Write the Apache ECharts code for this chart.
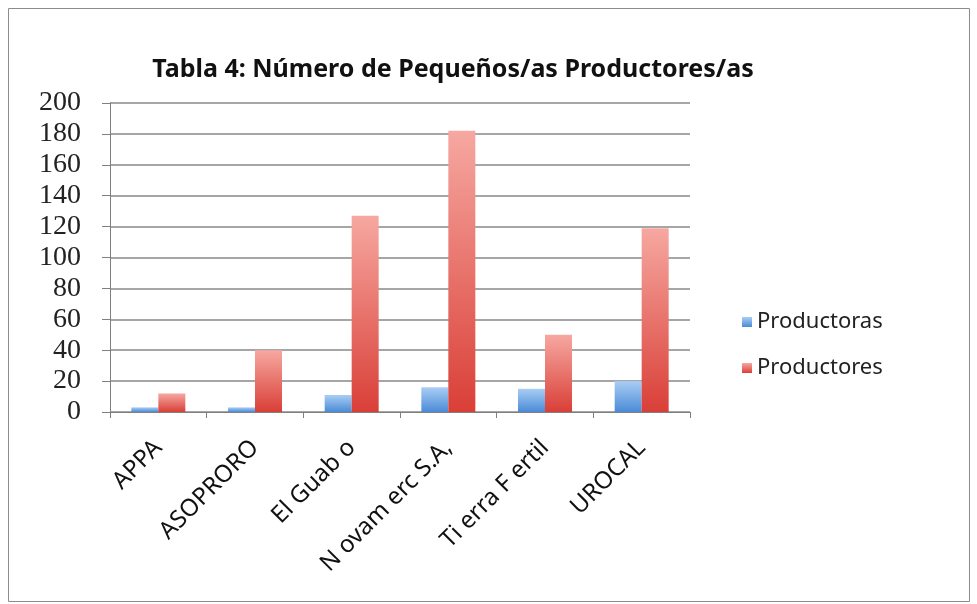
<!DOCTYPE html>
<html><head><meta charset="utf-8">
<script src="https://cdn.jsdelivr.net/npm/echarts@6/dist/echarts.min.js"></script>
<style>html,body{margin:0;padding:0;background:#fff}#c{width:977px;height:604px}</style>
</head><body><div id="c"></div>
<script>
var titleText = 'Tabla 4: Número de Pequeños/as Productores/as';
var categories = ['APPA', 'ASOPRORO', 'El Guab o', 'N ovam erc S.A,', 'Ti erra F ertil', 'UROCAL'];
var productoras = [3, 3, 11, 16, 15, 20];
var productores = [12, 40, 127, 182, 50, 119];
var seriesNames = ['Productoras', 'Productores'];

var chart = echarts.init(document.getElementById('c'));
function grad(top, bottom) {
  return new echarts.graphic.LinearGradient(0, 0, 0, 1, [{offset: 0, color: top}, {offset: 1, color: bottom}]);
}
chart.setOption({
  backgroundColor: '#ffffff',
  animation: false,
  graphic: [{type: 'rect', shape: {x: 8.5, y: 8.5, width: 961, height: 593}, style: {fill: 'none', stroke: '#8c8c8c', lineWidth: 1}}],
  title: {
    text: titleText, left: 448, top: 52, textAlign: 'center',
    textStyle: {fontFamily: 'Noto Sans', fontWeight: 'bold', fontSize: 25, color: '#111'}
  },
  legend: {
    orient: 'vertical', left: 737, top: 306, itemGap: 24, itemWidth: 10, itemHeight: 10,
    icon: 'rect', data: seriesNames,
    textStyle: {fontFamily: 'Noto Sans', fontSize: 22, color: '#222'}
  },
  grid: {left: 110, right: 287, top: 103, bottom: 192, containLabel: false},
  xAxis: {
    type: 'category', data: categories,
    axisLine: {lineStyle: {color: '#808080', width: 1}},
    axisTick: {show: true, length: 6, lineStyle: {color: '#808080'}},
    axisLabel: {rotate: 45, margin: 32, fontFamily: 'Noto Sans', fontSize: 24, color: '#111', interval: 0}
  },
  yAxis: {
    type: 'value', min: 0, max: 200, interval: 20,
    axisLine: {show: true, lineStyle: {color: '#808080'}},
    axisTick: {show: true, length: 8, inside: false, lineStyle: {color: '#808080'}},
    splitLine: {lineStyle: {color: '#888888', width: 1.5}},
    axisLabel: {margin: 29, fontFamily: 'Liberation Serif', fontSize: 28, color: '#222'}
  },
  series: [
    {name: seriesNames[0], type: 'bar', data: productoras, barWidth: 27, barGap: '0%',
     itemStyle: {color: grad('#a9cdf5', '#4a8bd6')}},
    {name: seriesNames[1], type: 'bar', data: productores, barWidth: 27,
     itemStyle: {color: grad('#f6a8a1', '#d93f37')}}
  ]
});
</script></body></html>
